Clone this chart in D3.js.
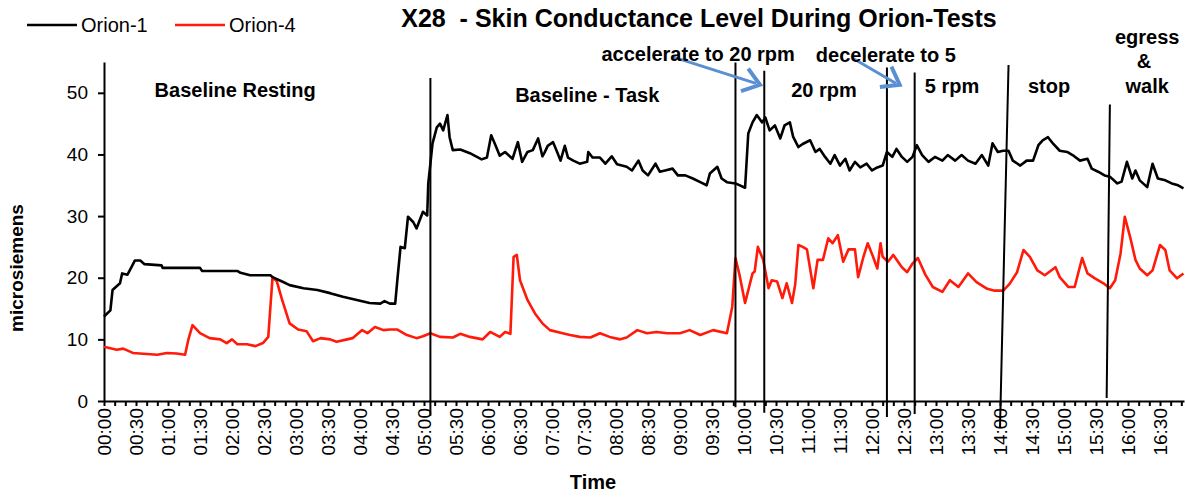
<!DOCTYPE html>
<html><head><meta charset="utf-8">
<script src="https://cdn.jsdelivr.net/npm/d3@7"></script>
<style>
html,body{margin:0;padding:0;background:#fff;}
svg text{font-family:"Liberation Sans",Arial,sans-serif;fill:#000;}
</style></head>
<body><svg id="chart" width="1185" height="497"></svg>
<script>
// ---- data (time in seconds, value in microsiemens) ----
const seriesNames = ["Orion-1", "Orion-4"];
const orion1 = [[0,13.7],[6,14.7],[8,18.0],[15,19.1],[17,20.7],[22,20.5],[26,21.8],[29,22.8],[34,22.8],[38,22.2],[54,22.0],[55,21.6],[90,21.6],[92,21.1],[125,21.1],[128,20.8],[137,20.4],[156,20.4],[158,20.1],[168,19.3],[174,18.8],[187,18.3],[200,18.0],[212,17.5],[224,16.9],[237,16.4],[249,15.9],[259,15.8],[263,16.2],[268,15.8],[273,15.8],[275,19.6],[278,25.0],[282,24.8],[285,29.9],[290,29.0],[293,28.0],[299,30.7],[303,30.1],[304,35.3],[306,38.5],[308,41.8],[312,44.4],[315,45.0],[318,43.9],[322,46.4],[324,42.8],[327,40.7],[334,40.8],[343,40.2],[354,39.2],[359,39.5],[363,43.1],[367,41.5],[371,39.8],[376,40.4],[383,39.3],[388,42.0],[392,38.8],[397,40.4],[402,40.7],[407,42.6],[411,39.7],[413,40.3],[416,41.4],[421,42.0],[425,40.3],[428,39.0],[432,41.4],[435,39.5],[440,39.0],[446,38.5],[453,38.8],[454,40.4],[458,39.5],[465,39.5],[470,38.5],[476,39.7],[481,38.4],[490,38.0],[495,37.4],[501,39.0],[505,37.4],[510,36.6],[517,38.5],[521,37.2],[526,37.4],[533,37.7],[538,36.6],[545,36.6],[552,36.1],[559,35.5],[565,35.0],[568,36.9],[575,38.0],[579,36.1],[584,35.5],[592,35.3],[601,34.6],[604,43.4],[608,45.2],[612,46.4],[617,45.2],[620,46.0],[624,43.9],[629,44.7],[634,42.6],[638,44.7],[643,45.2],[646,42.9],[651,41.2],[655,41.7],[662,42.3],[667,40.4],[671,40.9],[676,39.6],[681,38.5],[685,39.9],[690,38.2],[695,39.3],[699,37.4],[704,38.8],[709,37.9],[715,38.5],[720,37.4],[725,37.9],[730,38.2],[734,40.4],[739,39.6],[743,40.9],[748,39.6],[753,38.8],[758,39.6],[762,41.5],[767,39.9],[773,38.8],[779,39.6],[786,39.0],[791,39.9],[798,39.0],[804,39.9],[810,39.0],[817,38.5],[823,39.9],[829,38.2],[833,41.8],[838,40.4],[843,40.6],[848,40.6],[852,39.0],[859,38.2],[865,39.0],[871,39.0],[876,41.5],[880,42.3],[885,42.8],[890,41.7],[896,40.6],[903,40.4],[908,39.9],[915,39.0],[922,39.3],[926,37.7],[932,37.2],[938,36.6],[943,36.4],[950,35.3],[954,35.6],[959,38.8],[964,36.1],[967,37.4],[971,35.8],[978,34.7],[983,38.5],[988,36.1],[995,35.8],[1001,35.3],[1007,35.0],[1012,34.5]];
const orion4 = [[0,8.8],[12,8.3],[18,8.5],[27,7.8],[50,7.5],[59,7.8],[68,7.7],[76,7.5],[79,9.9],[83,12.3],[90,11.0],[99,10.2],[109,10.0],[115,9.4],[120,10.0],[125,9.2],[134,9.2],[142,8.9],[149,9.4],[154,10.4],[158,20.1],[162,19.4],[167,16.4],[174,12.6],[182,11.6],[190,11.3],[196,9.7],[203,10.2],[212,10.0],[218,9.6],[228,10.0],[233,10.2],[242,11.5],[247,11.0],[254,12.0],[262,11.5],[268,11.6],[275,11.6],[284,10.7],[293,10.2],[299,10.5],[306,11.0],[315,10.4],[327,10.3],[334,10.9],[343,10.4],[355,10.0],[362,11.2],[371,10.4],[376,11.2],[381,10.9],[384,23.4],[387,23.7],[390,19.6],[397,16.4],[404,14.2],[411,12.6],[418,11.5],[430,11.0],[437,10.7],[446,10.4],[456,10.3],[465,11.0],[474,10.4],[484,10.0],[490,10.3],[500,11.5],[509,11.0],[518,11.2],[528,11.0],[540,11.0],[549,11.5],[559,10.7],[571,11.5],[584,11.0],[589,15.3],[592,23.2],[596,20.3],[601,15.9],[608,20.7],[610,21.0],[613,25.0],[618,22.9],[623,18.3],[626,19.6],[631,19.4],[636,16.7],[640,19.1],[645,15.9],[648,18.9],[651,25.3],[655,25.0],[659,24.6],[665,18.3],[669,22.9],[674,22.9],[679,26.4],[683,25.6],[688,26.9],[693,22.6],[698,24.6],[704,24.6],[707,20.1],[712,23.4],[716,25.6],[721,23.4],[725,21.5],[728,25.6],[730,23.4],[735,22.6],[740,23.7],[748,21.7],[753,20.9],[758,22.3],[763,23.2],[770,20.5],[777,18.5],[786,17.7],[793,19.6],[801,18.5],[810,20.7],[818,19.3],[828,18.2],[835,17.9],[843,17.9],[849,19.0],[856,20.9],[862,24.5],[868,23.4],[875,21.2],[882,20.4],[892,21.7],[896,20.1],[904,18.5],[910,18.5],[917,23.2],[922,20.7],[929,19.9],[937,19.1],[943,18.3],[948,19.6],[953,23.9],[957,29.9],[962,26.6],[967,22.9],[971,21.5],[978,20.4],[983,21.2],[990,25.3],[995,24.5],[999,21.2],[1006,19.9],[1012,20.7]];
const xTickLabels = ["00:00","00:30","01:00","01:30","02:00","02:30","03:00","03:30","04:00","04:30","05:00","05:30","06:00","06:30","07:00","07:30","08:00","08:30","09:00","09:30","10:00","10:30","11:00","11:30","12:00","12:30","13:00","13:30","14:00","14:30","15:00","15:30","16:00","16:30"];
const yTicks = [0,10,20,30,40,50];
// phase marker lines: [t_top, v_top, t_bottom, v_bottom]
const phaseLines = [[306,52.4,306,-2.4],[592,54.9,592,-1.0],[619,53.6,619,-1.9],[734,54.1,734,-2.6],[760,53.3,760,-2.1],[848,54.5,840,-4.4],[943,48.1,940,0.5]];
// annotation labels: [text, t, v]
const phaseLabels = [["Baseline Resting",123,49.3],["Baseline - Task",453,48.5],["accelerate to 20 rpm",557,55.2],["decelerate to 5",733,55.0],["20 rpm",675,49.3],["5 rpm",795,50.0],["stop",886,50.0],["egress",978,57.9],["&",975,54.0],["walk",978,50.0]];
// arrows: [t_from, v_from, t_to, v_to]
const arrows = [[534,55.8,615,51.3],[702,55.6,746,51.3]];

// ---- chart ----
const svg = d3.select("#chart");
const x = d3.scaleLinear().domain([0, 1012.5]).range([104, 1184]);
const y = d3.scaleLinear().domain([0, 55]).range([401, 62]);

// title
svg.append("text").attr("x", 699).attr("y", 27).attr("text-anchor", "middle")
  .style("font-size", "25px").style("font-weight", "bold").style("white-space", "pre")
  .text("X28  - Skin Conductance Level During Orion-Tests");

// axes
const yAxis = d3.axisLeft(y).tickValues(yTicks).tickSize(6).tickSizeOuter(0).tickPadding(10);
const gy = svg.append("g").attr("transform", `translate(${x(0)},0)`).call(yAxis);
gy.selectAll("text").style("font-size", "19px");
gy.selectAll("path,line").attr("stroke", "#000").attr("stroke-width", 2);

const tickVals = d3.range(0, 1011, 10);
const xAxis = d3.axisBottom(x).tickValues(tickVals).tickSize(5).tickSizeOuter(0)
  .tickFormat(d => d % 30 === 0 ? xTickLabels[d / 30] : "");
const gx = svg.append("g").attr("transform", `translate(0,${y(0)})`).call(xAxis);
gx.selectAll("path,line").attr("stroke", "#000").attr("stroke-width", 2);
gx.selectAll("text").style("font-size", "19px")
  .attr("transform", "rotate(-90)").attr("text-anchor", "end")
  .attr("x", -7).attr("y", 0).attr("dy", "0.36em");

// axis titles
svg.append("text").attr("transform", "translate(23,268) rotate(-90)").attr("text-anchor", "middle")
  .style("font-size", "19px").style("font-weight", "bold").text("microsiemens");
svg.append("text").attr("x", 593).attr("y", 489).attr("text-anchor", "middle")
  .style("font-size", "20px").style("font-weight", "bold").text("Time");

// series lines
const line = d3.line().x(d => x(d[0])).y(d => y(d[1]));
svg.append("path").datum(orion4).attr("d", line).attr("fill", "none")
  .attr("stroke", "#ff1a0a").attr("stroke-width", 2.6).attr("stroke-linejoin", "round");
svg.append("path").datum(orion1).attr("d", line).attr("fill", "none")
  .attr("stroke", "#000").attr("stroke-width", 2.6).attr("stroke-linejoin", "round");

// phase lines
svg.append("g").selectAll("line").data(phaseLines).join("line")
  .attr("x1", d => x(d[0])).attr("y1", d => y(d[1]))
  .attr("x2", d => x(d[2])).attr("y2", d => y(d[3]))
  .attr("stroke", "#000").attr("stroke-width", 2);

// arrows
const arrowColor = "#5b8fd3";
const ga = svg.append("g");
arrows.forEach(a => {
  const x1 = x(a[0]), y1 = y(a[1]), x2 = x(a[2]), y2 = y(a[3]);
  ga.append("line").attr("x1", x1).attr("y1", y1).attr("x2", x2 - 4).attr("y2", y2 - 1.5)
    .attr("stroke", arrowColor).attr("stroke-width", 3);
  const ang = Math.atan2(y2 - y1, x2 - x1);
  const L = 20, sp = Math.PI / 5;
  const p1 = [x2 - L * Math.cos(ang - sp), y2 - L * Math.sin(ang - sp)];
  const p2 = [x2 - L * Math.cos(ang + sp), y2 - L * Math.sin(ang + sp)];
  ga.append("path").attr("d", `M${p1[0]},${p1[1]}L${x2},${y2}L${p2[0]},${p2[1]}`)
    .attr("fill", "none").attr("stroke", arrowColor).attr("stroke-width", 4)
    .attr("stroke-linejoin", "miter");
});

// phase labels
svg.append("g").selectAll("text").data(phaseLabels).join("text")
  .attr("x", d => x(d[1])).attr("y", d => y(d[2])).attr("text-anchor", "middle")
  .style("font-size", "20px").style("font-weight", "bold").text(d => d[0]);

// legend
const legend = svg.append("g");
const legColors = ["#000", "#ff1a0a"];
const legX = [27, 175];
seriesNames.forEach((n, i) => {
  legend.append("line").attr("x1", legX[i]).attr("x2", legX[i] + 50).attr("y1", 25).attr("y2", 25)
    .attr("stroke", legColors[i]).attr("stroke-width", 2.5);
  legend.append("text").attr("x", legX[i] + 54).attr("y", 32).style("font-size", "20px").text(n);
});
</script></body></html>
